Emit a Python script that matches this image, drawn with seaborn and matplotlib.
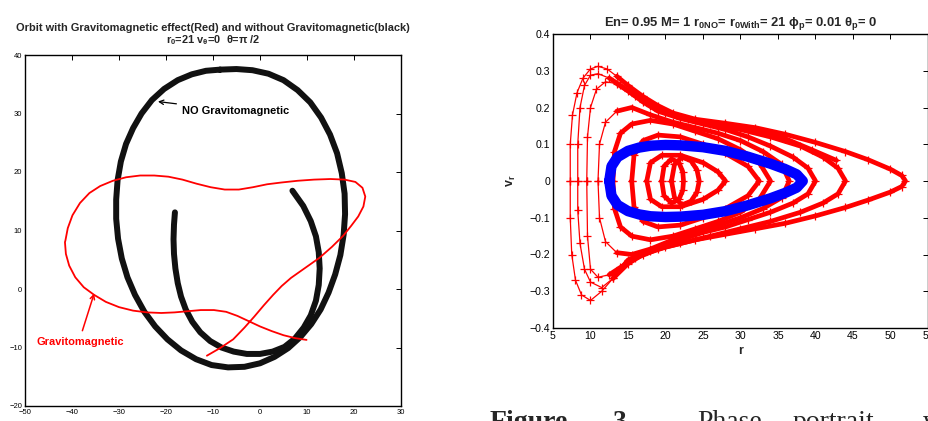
import numpy as np
import matplotlib
matplotlib.use("Agg")
import matplotlib.pyplot as plt
import seaborn as sns
import pandas as pd

# ---------------- data ----------------
# Left panel: orbit without gravitomagnetic effect (black), closed outer loop
black_loop_x = [-8.5, -11.5, -14.5, -17.5, -20.4, -23, -25.2, -27, -28.5, -29.6, -30.3, -30.6,
                -30.6, -30.2, -29.4, -28.2, -26.6, -24.6, -22.3, -19.7, -16.8, -13.6, -10.3,
                -6.8, -3.3, 0, 3.1, 6, 8.6, 10.9, 12.9, 14.6, 16, 17.1, 17.8, 18.1, 18, 17.4,
                16.4, 14.9, 13, 10.7, 8, 5, 1.8, -1.6, -5, -8.5]
black_loop_y = [37.5, 37.3, 36.7, 35.7, 34.2, 32.3, 30, 27.5, 24.8, 21.8, 18.6, 15.3,
                12, 8.6, 5.2, 2, -1, -3.9, -6.4, -8.6, -10.5, -12, -13,
                -13.4, -13.3, -12.7, -11.6, -10.1, -8.2, -6, -3.5, -0.6, 2.5, 5.8, 9.3, 12.8,
                16.3, 19.8, 23.2, 26.4, 29.3, 31.9, 34, 35.7, 36.8, 37.4, 37.6, 37.5]
# inner open arc of the black orbit
black_arc_x = [-18.1, -18.3, -18.4, -18.3, -18, -17.5, -16.8, -15.8, -14.4, -12.7, -10.6, -8.2,
               -5.6, -2.8, 0, 2.7, 5.2, 7.4, 9.3, 10.8, 11.9, 12.5, 12.7, 12.5, 11.9, 10.8,
               9.2, 6.9]
black_arc_y = [13.1, 11, 8.5, 6, 3.5, 1, -1.3, -3.5, -5.6, -7.4, -8.9, -10,
               -10.7, -11.1, -11.1, -10.7, -9.9, -8.5, -6.6, -4.5, -2, 0.7, 3.5, 6.3, 9, 11.6,
               14.2, 16.8]
# orbit with gravitomagnetic effect (red)
red_orbit_x = [-11.3, -8.5, -5.7, -3.3, -1.2, 0.8, 2.8, 4.6, 6.6, 9.6, 12.6, 15.3, 17.7, 19.4,
               20.9, 22.0, 22.4, 21.8, 20.3, 18, 15, 11.5, 8, 4.5, 1.5, -1.5, -4.5, -7.5, -10.5,
               -13.5, -16.5, -19.5, -22.5, -25.5, -28.5, -31.3, -34, -36.3, -38.3, -39.9, -40.9,
               -41.4, -41.5, -41.3, -40.6, -39.3, -37.5, -35.3, -32.8, -30, -27, -24, -21,
               -18.2, -15.4, -12.6, -9.8, -7.2, -4.8, -2.4, 0, 2.5, 5, 7.5, 9.9]
red_orbit_y = [-11.4, -10.1, -8.6, -6.6, -4.7, -2.8, -1.0, 0.5, 1.9, 3.6, 5.3, 7.2, 9.1, 10.8,
               12.4, 14.1, 15.8, 17.3, 18.3, 18.7, 18.8, 18.7, 18.5, 18.2, 17.9, 17.4, 17, 17,
               17.4, 18, 18.7, 19.2, 19.4, 19.4, 19.1, 18.5, 17.6, 16.4, 14.7, 12.6, 10.4,
               8.3, 8.0, 6, 4, 2, 0.3, -1.0, -2.2, -3.1, -3.7, -4.0, -4.1,
               -4.0, -3.8, -3.6, -3.6, -3.9, -4.6, -5.5, -6.4, -7.2, -7.9, -8.4, -8.7]
left_xticks = [-50, -40, -30, -20, -10, 0, 10, 20, 30]
left_yticks = [-20, -10, 0, 10, 20, 30, 40]

# Right panel: phase portrait (r, v_r)
blue_r = [12.5, 12.8, 13.6, 15, 16.5, 18, 20, 22, 25, 28, 31, 34, 36, 37.5, 38.3,
          37.5, 36, 34, 31, 28, 25, 22, 20, 18, 16.5, 15, 13.6, 12.8, 12.5]
blue_v = [0.0, 0.04, 0.065, 0.082, 0.091, 0.096, 0.098, 0.097, 0.092, 0.082, 0.066, 0.047, 0.032,
          0.018, 0.0, -0.018, -0.032, -0.047, -0.066, -0.082, -0.092, -0.097, -0.098, -0.096,
          -0.091, -0.082, -0.065, -0.04, 0.0]

red1_r = [7.3, 7.3, 7.6, 8.2, 9.0, 10.0, 11.0, 12.2, 13.5, 15, 17, 19, 21, 24, 28, 32, 36, 40, 44,
          47, 50, 51.5, 52, 51.5, 50, 47, 44, 40, 36, 32, 28, 24, 20, 17, 15, 13, 11.5, 10, 8.8,
          8, 7.5, 7.3, 7.3]
red1_v = [0.0, 0.1, 0.18, 0.24, 0.28, 0.305, 0.312, 0.305, 0.285, 0.26, 0.23, 0.205, 0.185, 0.168,
          0.157, 0.145, 0.127, 0.105, 0.08, 0.058, 0.032, 0.015, 0.0, -0.015, -0.03, -0.052,
          -0.072, -0.095, -0.115, -0.13, -0.145, -0.16, -0.18, -0.2, -0.225, -0.265, -0.3,
          -0.325, -0.31, -0.27, -0.2, -0.1, 0.0]
red2_r = [8.3, 8.3, 8.6, 9.2, 10, 11, 12.5, 14, 16, 18, 20, 23, 26, 30, 34, 38, 41, 43, 44,
          43, 41, 38, 34, 30, 26, 22, 18, 15, 13, 11.5, 10, 9.2, 8.6, 8.3, 8.3]
red2_v = [0.0, 0.1, 0.2, 0.26, 0.288, 0.292, 0.28, 0.26, 0.232, 0.205, 0.185, 0.168, 0.155, 0.14,
          0.12, 0.095, 0.065, 0.035, 0.0, -0.035, -0.06, -0.085, -0.11, -0.13, -0.15, -0.17,
          -0.19, -0.215, -0.265, -0.29, -0.275, -0.24, -0.17, -0.08, 0.0]
red3_r = [9.5, 9.6, 10, 10.8, 12, 13.5, 15, 17, 19, 22, 25, 28, 31, 34, 37, 39, 40,
          39, 37, 34, 31, 28, 25, 22, 19, 16, 14, 12.5, 11, 10, 9.6, 9.5]
red3_v = [0.0, 0.12, 0.2, 0.25, 0.27, 0.265, 0.245, 0.215, 0.19, 0.17, 0.155, 0.14, 0.12, 0.095,
          0.065, 0.035, 0.0, -0.035, -0.06, -0.085, -0.105, -0.125, -0.14, -0.16, -0.185, -0.21,
          -0.235, -0.255, -0.262, -0.24, -0.15, 0.0]
red4_r = [11, 11.2, 12, 13.5, 15.5, 18, 21, 24, 27, 30, 33, 35.5, 36.5,
          35.5, 33, 30, 27, 24, 21, 18, 15.5, 13.5, 12, 11.2, 11]
red4_v = [0.0, 0.1, 0.16, 0.19, 0.2, 0.18, 0.16, 0.145, 0.13, 0.11, 0.08, 0.045, 0.0,
          -0.045, -0.075, -0.1, -0.12, -0.14, -0.16, -0.185, -0.2, -0.195, -0.165, -0.1, 0.0]
red5_r = [13, 13.2, 14, 15.5, 18, 21, 24, 27, 30, 32.5, 34,
          32.5, 30, 27, 24, 21, 18, 15.5, 14, 13.2, 13]
red5_v = [0.0, 0.08, 0.13, 0.155, 0.165, 0.155, 0.135, 0.115, 0.085, 0.05, 0.0,
          -0.05, -0.085, -0.11, -0.13, -0.15, -0.16, -0.15, -0.125, -0.075, 0.0]
red6_r = [15.5, 15.8, 17, 19, 22, 25, 28, 31, 32.5, 31, 28, 25, 22, 19, 17, 15.8, 15.5]
red6_v = [0.0, 0.07, 0.11, 0.125, 0.12, 0.1, 0.075, 0.04, 0.0, -0.04, -0.075, -0.1, -0.12,
          -0.125, -0.11, -0.07, 0.0]
red7_r = [17.5, 18, 19.5, 22, 25, 27, 28, 27, 25, 22, 19.5, 18, 17.5]
red7_v = [0.0, 0.05, 0.07, 0.07, 0.05, 0.025, 0.0, -0.025, -0.05, -0.07, -0.07, -0.05, 0.0]
red8_r = [19.5, 19.8, 20.8, 21.8, 22.3, 22.4, 22.3, 21.8, 20.8, 19.8, 19.5]
red8_v = [0.0, 0.04, 0.06, 0.05, 0.025, 0.0, -0.025, -0.05, -0.06, -0.04, 0.0]
red9_r = [20.8, 21.2, 22.2, 23.4, 24.2, 24.5, 24.2, 23.4, 22.2, 21.2, 20.8]
red9_v = [0.0, 0.045, 0.065, 0.055, 0.03, 0.0, -0.03, -0.055, -0.065, -0.045, 0.0]
red_end_r = [24, 28, 32, 36, 39.5, 42.8]
red_end_v = [0.165, 0.155, 0.14, 0.115, 0.085, 0.056]
right_xticks = [5, 10, 15, 20, 25, 30, 35, 40, 45, 50, 55]
right_yticks = [-0.4, -0.3, -0.2, -0.1, 0, 0.1, 0.2, 0.3, 0.4]
right_yticklabels = ['\u22120.4', '\u22120.3', '\u22120.2', '\u22120.1', '0', '0.1', '0.2',
                     '0.3', '0.4']

# ---------------- style ----------------
sns.set_style("white")
plt.rcParams['font.family'] = ['Liberation Sans', 'DejaVu Sans']
plt.rcParams['mathtext.fontset'] = 'custom'
plt.rcParams['mathtext.rm'] = 'Liberation Sans:bold'
plt.rcParams['mathtext.it'] = 'Liberation Sans:bold'
plt.rcParams['mathtext.bf'] = 'Liberation Sans:bold'

fig = plt.figure(figsize=(9.29, 4.21), dpi=100)
axL = fig.add_axes([25 / 929, 15 / 421, 376 / 929, 351 / 421])
axR = fig.add_axes([553 / 929, 93 / 421, 375 / 929, 294 / 421])


def matlab_box(ax, fs):
    for s in ax.spines.values():
        s.set_visible(True)
        s.set_color('black')
        s.set_linewidth(1.0)
    ax.tick_params(direction='in', top=True, right=True, length=3.5, width=0.7,
                   labelsize=fs, pad=2, colors='black')


def line(ax, xs, ys, color, lw, zorder=2):
    d = pd.DataFrame({'x': xs, 'y': ys})
    sns.lineplot(data=d, x='x', y='y', sort=False, estimator=None, color=color,
                 lw=lw, ax=ax, legend=False, zorder=zorder)


def marks(ax, xs, ys, color, ms, mew):
    d = pd.DataFrame({'x': xs, 'y': ys})
    sns.scatterplot(data=d, x='x', y='y', marker='+', s=ms, color=color,
                    linewidth=mew, ax=ax, legend=False, zorder=3)


# ---------------- left panel ----------------
line(axL, black_loop_x, black_loop_y, '#111111', 4.3)
line(axL, black_arc_x, black_arc_y, '#111111', 4.3)
line(axL, red_orbit_x, red_orbit_y, '#ff0000', 1.3, zorder=3)
axL.set_xlim(-50, 30)
axL.set_ylim(-20, 40)
axL.set_xticks(left_xticks)
axL.set_yticks(left_yticks)
axL.set_xticklabels([str(t).replace('-', '\u2212') for t in left_xticks])
axL.set_yticklabels([str(t).replace('-', '\u2212') for t in left_yticks])
axL.set_xlabel('')
axL.set_ylabel('')
matlab_box(axL, 5.5)
axL.annotate('NO Gravitomagnetic', xy=(-22.3, 32.1), xytext=(-16.5, 30.4),
             fontsize=7.9, fontweight='bold', color='black', va='center',
             arrowprops=dict(arrowstyle='->', color='black', lw=0.9))
axL.annotate('Gravitomagnetic', xy=(-35.1, -0.3), xytext=(-47.5, -9.0),
             fontsize=7.9, fontweight='bold', color='#ff0000', va='center',
             arrowprops=dict(arrowstyle='->', color='#ff0000', lw=1.1,
                             relpos=(0.5, 1.0)))
fig.text(213 / 929, 1 - 28 / 421,
         'Orbit with Gravitomagnetic effect(Red) and without Gravitomagnetic(black)',
         ha='center', va='center', fontsize=7.9, fontweight='bold')
fig.text(213 / 929, 1 - 40 / 421, r'r$_0$=21 v$_\theta$=0  θ=π /2',
         ha='center', va='center', fontsize=7.9, fontweight='bold')

# ---------------- right panel ----------------
red_loops = [(red1_r, red1_v), (red2_r, red2_v), (red3_r, red3_v), (red4_r, red4_v),
             (red5_r, red5_v), (red6_r, red6_v), (red7_r, red7_v), (red8_r, red8_v),
             (red9_r, red9_v), (red_end_r, red_end_v)]
for rr, vv in red_loops:
    line(axR, rr, vv, '#ff0000', 0.9)
    marks(axR, rr, vv, '#ff0000', 28, 0.9)
    rr_a = np.array(rr, dtype=float)
    vv_a = np.array(vv, dtype=float)
    mask = rr_a >= 12.5
    axR.plot(np.where(mask, rr_a, np.nan), np.where(mask, vv_a, np.nan),
             color='#ff0000', lw=3.4, solid_capstyle='round', solid_joinstyle='round',
             zorder=2)
line(axR, blue_r, blue_v, '#0000ff', 7.5, zorder=4)
axR.set_xlim(5, 55)
axR.set_ylim(-0.4, 0.4)
axR.set_xticks(right_xticks)
axR.set_yticks(right_yticks)
axR.set_xticklabels([str(t) for t in right_xticks])
axR.set_yticklabels(right_yticklabels)
matlab_box(axR, 7.6)
axR.set_xlabel('r', fontsize=9, fontweight='bold', labelpad=3)
axR.set_ylabel(r'v$_r$', fontsize=9, fontweight='bold', labelpad=8)
axR.set_title(r'En= 0.95 M= 1 r$_{0NO}$= r$_{0With}$= 21 $\phi_p$= 0.01 $\theta_p$= 0',
              fontsize=9.4, fontweight='bold', pad=6)

# caption fragment at the bottom (cut off by the figure edge)
cap_y = 1 - 429 / 421
serif = ['Liberation Serif', 'DejaVu Serif']
fig.text(490 / 929, cap_y, 'Figure', fontsize=20, fontweight='bold', family=serif,
         va='baseline')
fig.text(613 / 929, cap_y, '3.', fontsize=20, fontweight='bold', family=serif, va='baseline')
fig.text(697 / 929, cap_y, 'Phase', fontsize=20, family=serif, va='baseline')
fig.text(793 / 929, cap_y, 'portrait', fontsize=20, family=serif, va='baseline')
fig.text(923 / 929, cap_y, 'w', fontsize=20, family=serif, va='baseline')

fig.savefig('out.png', dpi=100)
